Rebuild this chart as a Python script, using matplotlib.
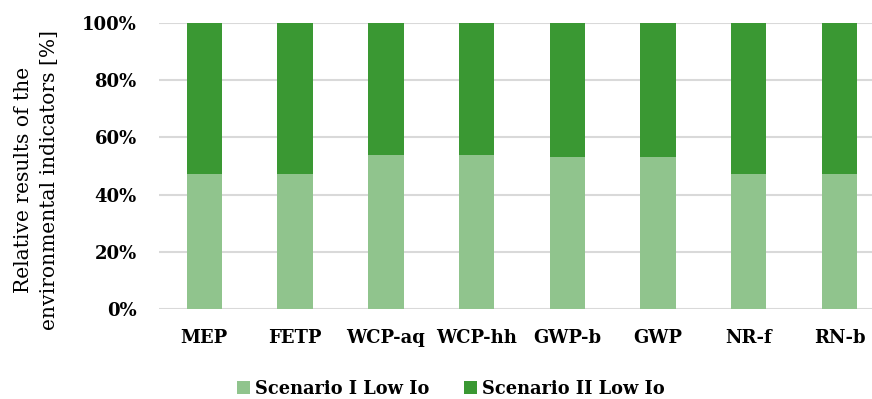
import matplotlib.pyplot as plt
import numpy as np

plt.rcParams['font.family'] = ['DejaVu Serif']

# relative results per indicator [%]
categories = ['MEP', 'FETP', 'WCP-aq', 'WCP-hh', 'GWP-b', 'GWP', 'NR-f', 'RN-b']
scen1 = [47.2, 47.2, 53.9, 53.9, 53.2, 53.2, 47.1, 47.3]
scen2 = [100 - v for v in scen1]
yticks = [0, 20, 40, 60, 80, 100]

c1 = '#90c48d'
c2 = '#3a9833'

fig = plt.figure(figsize=(8.72, 3.99), dpi=100)
ax = fig.add_axes([0.1823, 0.2248, 0.8177, 0.7183])

x = np.arange(len(categories))
ax.bar(x, scen1, width=0.39, color=c1, label='Scenario I Low Io', zorder=3)
ax.bar(x, scen2, width=0.39, bottom=scen1, color=c2, label='Scenario II Low Io', zorder=3)

ax.set_xlim(-0.5, 7.358)
ax.set_ylim(0, 100)
ax.set_yticks(yticks)
ax.set_yticklabels(['%d%%' % v for v in yticks], fontweight='bold', fontsize=13)
ax.set_xticks(x)
ax.set_xticklabels(categories, fontweight='bold', fontsize=13)
ax.tick_params(axis='both', length=0)
ax.tick_params(axis='y', pad=16)
ax.tick_params(axis='x', pad=14)
ax.grid(axis='y', color='#d9d9d9', linewidth=1.5, zorder=0)
for s in ax.spines.values():
    s.set_visible(False)

fig.text(0.042, 0.55, 'Relative results of the\nenvironmental indicators [%]',
         rotation=90, ha='center', va='center', fontsize=14.6, linespacing=1.5)

fig.legend(loc='center', bbox_to_anchor=(0.517, 0.025), ncol=2, frameon=False,
           prop={'weight': 'bold', 'size': 12.8}, handlelength=0.75, handleheight=0.75,
           handletextpad=0.3, columnspacing=1.9)

plt.savefig('out.png')
